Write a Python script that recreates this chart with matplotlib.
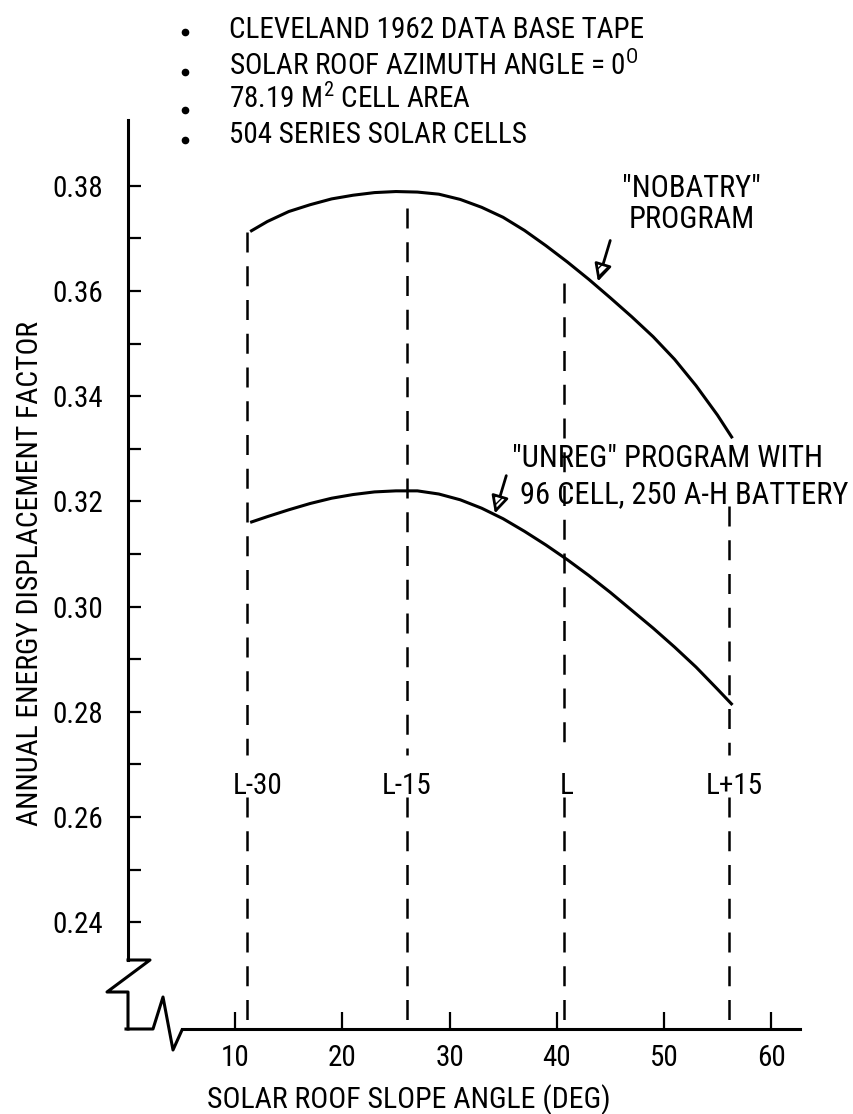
import matplotlib
matplotlib.use("Agg")
import matplotlib.pyplot as plt
from matplotlib import font_manager as fm
from matplotlib.lines import Line2D
from matplotlib.patches import FancyArrowPatch

# ---------------- data ----------------
nobatry_x = [11.4, 13, 15, 17, 19, 21, 23, 25, 27, 29, 31, 33, 35, 37, 39, 41,
             43, 45, 47, 49, 51, 53, 55, 56.4]
nobatry_y = [0.3713, 0.3732, 0.3751, 0.3764, 0.3775, 0.3782, 0.3787, 0.3789,
             0.3788, 0.3784, 0.3774, 0.3759, 0.3740, 0.3715, 0.3686, 0.3655,
             0.3622, 0.3587, 0.3551, 0.3513, 0.3470, 0.3420, 0.3364, 0.3320]

unreg_x = [11.4, 13, 15, 17, 19, 21, 23, 25, 27, 29, 31, 33, 35, 37, 39, 41,
           43, 45, 47, 49, 51, 53, 55, 56.4]
unreg_y = [0.3160, 0.3171, 0.3184, 0.3196, 0.3206, 0.3213, 0.3218, 0.3220,
           0.3220, 0.3214, 0.3203, 0.3187, 0.3167, 0.3143, 0.3117, 0.3089,
           0.3059, 0.3027, 0.2993, 0.2959, 0.2923, 0.2885, 0.2843, 0.2813]

ref_names = ["L-30", "L-15", "L", "L+15"]
ref_x = [11.1, 26.0, 40.7, 56.1]
ref_top = [0.3713, 0.3758, 0.3616, 0.3191]

x_ticks = [10, 20, 30, 40, 50, 60]
y_major = [0.24, 0.26, 0.28, 0.30, 0.32, 0.34, 0.36, 0.38]
y_minor = [0.25, 0.27, 0.29, 0.31, 0.33, 0.35, 0.37]
y_labels = ["0.24", "0.26", "0.28", "0.30", "0.32", "0.34", "0.36", "0.38"]

notes = ["CLEVELAND 1962 DATA BASE TAPE",
         "SOLAR ROOF AZIMUTH ANGLE = 0$^{O}$",
         "78.19 M$^{2}$ CELL AREA",
         "504 SERIES SOLAR CELLS"]

# ---------------- font ----------------
names = {f.name for f in fm.fontManager.ttflist}
chosen = "Roboto Condensed" if "Roboto Condensed" in names else "DejaVu Sans"
FS = 21 if chosen == "Roboto Condensed" else 17.5
FS_ANN = 22 if chosen == "Roboto Condensed" else 18

plt.rcParams["font.family"] = [chosen, "DejaVu Sans"]
plt.rcParams["mathtext.fontset"] = "custom"
plt.rcParams["mathtext.rm"] = chosen
plt.rcParams["mathtext.default"] = "regular"

W, H = 854, 1114
fig = plt.figure(figsize=(W / 100, H / 100), dpi=100)

def fx(px):
    return px / W

def fy(py):
    return 1 - py / H

# axes: x=0 at px 128, x=62.7 at px 800 ; y=0.3925 at py 120, y=0.2197 at py 1029
ax = fig.add_axes([fx(128), fy(1029), (800 - 128) / W, (1029 - 120) / H])
ax.set_xlim(0, 62.7)
ax.set_ylim(0.2197, 0.3925)

for s in ["top", "right"]:
    ax.spines[s].set_visible(False)
ax.spines["left"].set_linewidth(2.2)
ax.spines["bottom"].set_linewidth(2.2)
ax.spines["left"].set_bounds(0.2328, 0.3925)
ax.spines["bottom"].set_bounds(5.04, 62.7)

ax.set_xticks(x_ticks)
ax.set_xticklabels([str(v) for v in x_ticks], fontsize=FS)
ax.set_yticks(y_major)
ax.set_yticklabels(y_labels, fontsize=FS)
ax.set_yticks(y_minor, minor=True)
ax.tick_params(axis="y", which="both", direction="in", length=9, width=1.6, pad=18)
ax.tick_params(axis="x", which="major", direction="in", length=12, width=1.6, pad=11)

# curves
ax.plot(nobatry_x, nobatry_y, color="black", lw=2.2, solid_capstyle="butt",
        solid_joinstyle="round")
ax.plot(unreg_x, unreg_y, color="black", lw=2.2, solid_capstyle="butt",
        solid_joinstyle="round")

# reference (latitude) dashed lines with gap for labels
gap_top, gap_bot, line_bot = 0.2718, 0.2638, 0.2215
label_dx = [1.0, 0.0, 0.2, 0.5]
for name, xv, top, dx in zip(ref_names, ref_x, ref_top, label_dx):
    ax.plot([xv, xv], [top, gap_top], color="black", lw=1.8, ls=(0, (8, 5.5)))
    ax.plot([xv, xv], [gap_bot, line_bot], color="black", lw=1.8, ls=(0, (8, 5.5)))
    ax.text(xv + dx, 0.2643, name, fontsize=FS, ha="center", va="baseline")

# curve annotations
ax.text(52.6, 0.3719, '"NOBATRY"\nPROGRAM', fontsize=FS_ANN, ha="center",
        va="baseline", linespacing=1.1)
ax.add_patch(FancyArrowPatch((45.07, 0.3701), (43.77, 0.3613),
                             arrowstyle="-|>", mutation_scale=26, lw=2,
                             fc="white", ec="black", hatch="////"))
fig.text(fx(512), fy(467), '"UNREG" PROGRAM WITH', fontsize=FS_ANN, ha="left", va="baseline")
fig.text(fx(520), fy(503), "96 CELL, 250 A-H BATTERY", fontsize=FS_ANN, ha="left", va="baseline")
ax.add_patch(FancyArrowPatch((35.37, 0.3254), (34.16, 0.3172),
                             arrowstyle="-|>", mutation_scale=26, lw=2,
                             fc="white", ec="black", hatch="////"))

# axis break zigzags
zig_y = [(128, 960), (150, 960), (107, 992), (128, 992), (128, 1029)]
zig_x = [(126, 1029), (153, 1029), (163, 997), (173, 1050), (182, 1030)]
for pts in (zig_y, zig_x):
    fig.add_artist(Line2D([fx(p[0]) for p in pts], [fy(p[1]) for p in pts],
                          color="black", lw=2.2, transform=fig.transFigure))

# axis titles
fig.text(fx(409), fy(1108), "SOLAR ROOF SLOPE ANGLE (DEG)", fontsize=FS + 0.5,
         ha="center", va="baseline")
fig.text(fx(30), fy(573), "ANNUAL ENERGY DISPLACEMENT FACTOR", fontsize=FS + 0.3,
         ha="center", va="center", rotation=90)

# header notes with bullets
note_base = [38, 75, 108, 143]
bullet_y = [32, 72, 110, 140]
for txt, by, bu in zip(notes, note_base, bullet_y):
    fig.text(fx(229), fy(by), txt, fontsize=FS, ha="left", va="baseline")
    fig.add_artist(Line2D([fx(185)], [fy(bu)], marker="o", ms=4.5, color="black",
                          transform=fig.transFigure))

fig.savefig("out.png", dpi=100, facecolor="white")
